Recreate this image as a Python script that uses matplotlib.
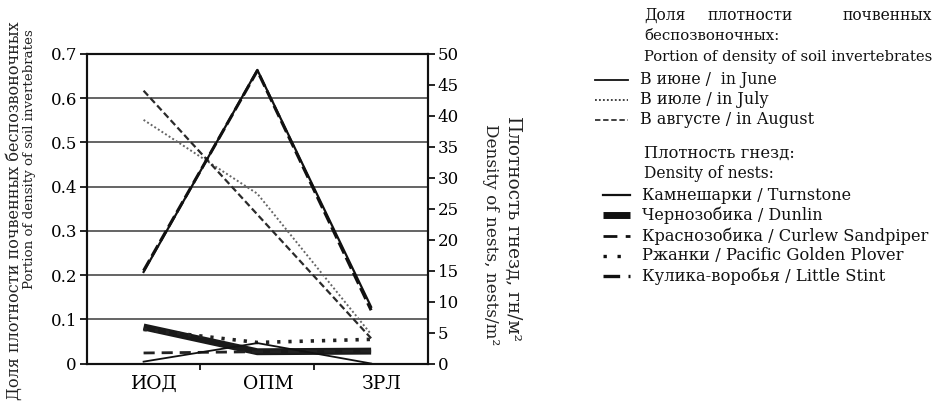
import matplotlib
matplotlib.use("Agg")
import matplotlib.pyplot as plt
from matplotlib.lines import Line2D
import matplotlib.transforms as mtransforms

plt.rcParams['font.family'] = ['DejaVu Serif']

categories = ['ИОД', 'ОПМ', 'ЗРЛ']
# Portion of density of soil invertebrates (left axis)
june = [0.207, 0.664, 0.128]
july = [0.551, 0.384, 0.066]
august = [0.617, 0.337, 0.057]
# Density of nests (right axis)
turnstone = [0.3, 3.3, 0.0]
dunlin = [5.9, 1.9, 2.0]
curlew = [1.7, 1.9, 2.0]
plover = [5.5, 3.4, 3.9]
little_stint = [15.0, 47.3, 8.6]

left_ticks = [0, 0.1, 0.2, 0.3, 0.4, 0.5, 0.6, 0.7]
left_labels = ['0', '0.1', '0.2', '0.3', '0.4', '0.5', '0.6', '0.7']
right_ticks = [0, 5, 10, 15, 20, 25, 30, 35, 40, 45, 50]

W, H = 935, 413
fig = plt.figure(figsize=(W / 100, H / 100), dpi=100)

def fx(px):
    return px / W

def fy(py):
    return 1 - py / H

ax = fig.add_axes([fx(86.7), fy(363.5), fx(428 - 86.7), (363.5 - 54) / H])
ax2 = ax.twinx()

x = range(len(categories))
ax.set_xlim(-0.5, 2.5)
ax.set_ylim(0, 0.7)
ax2.set_ylim(0, 50)

# gridlines
for t in left_ticks[1:-1]:
    ax.axhline(t, color='#3a3a3a', lw=1.1, zorder=1)

ax.plot(x, june, color='#111111', lw=1.6, ls='-', zorder=3)
ax.plot(x, july, color='#666666', lw=1.4, ls=(0, (1, 1.2)), zorder=3)
ax.plot(x, august, color='#2a2a2a', lw=1.6, ls=(0, (3, 1.5)), zorder=3)

ax2.plot(x, little_stint, color='#111111', lw=2.2, ls=(0, (4, 1.5)), zorder=3)
ax2.plot(x, dunlin, color='#1a1a1a', lw=5, ls='-', zorder=3, solid_capstyle='butt')
ax2.plot(x, curlew, color='#222222', lw=2.0, ls=(0, (4, 2.5)), zorder=3)
ax2.plot(x, plover, color='#222222', lw=2.6, ls=(0, (0.9, 2.2)), zorder=3)
ax2.plot(x, turnstone, color='#111111', lw=1.3, ls='-', zorder=3)

for a in (ax, ax2):
    for s in a.spines.values():
        s.set_linewidth(1.5)
        s.set_color('#111111')

ax.set_xticks(list(x))
ax.set_xticklabels(categories, fontsize=13.5)
ax.set_xticks([0.5, 1.5], minor=True)
ax.tick_params(axis='x', which='major', length=0, pad=8)
ax.tick_params(axis='x', which='minor', length=4, width=1.2, direction='out')
offset = mtransforms.ScaledTranslation(11 / 100, 0, fig.dpi_scale_trans)
for lab in ax.get_xticklabels():
    lab.set_transform(lab.get_transform() + offset)

ax.set_yticks(left_ticks)
ax.set_yticklabels(left_labels, fontsize=12)
ax.tick_params(axis='y', length=5, width=1.2, direction='out', pad=2)
ax2.set_yticks(right_ticks)
ax2.set_yticklabels([str(t) for t in right_ticks], fontsize=12)
ax2.tick_params(axis='y', length=5, width=1.2, direction='out', pad=2)

# axis titles
fig.text(fx(14), fy(211), 'Доля плотности почвенных беспозвоночных', rotation=90,
         ha='center', va='center', fontsize=11.5, color='#222222')
fig.text(fx(30), fy(159), 'Portion of density of soil invertebrates', rotation=90,
         ha='center', va='center', fontsize=9.6, color='#222222')
fig.text(fx(513), fy(228), 'Плотность гнезд, гн/м²', rotation=-90,
         ha='center', va='center', fontsize=13.3, color='#222222')
fig.text(fx(490), fy(235), 'Density of nests, nests/m²', rotation=-90,
         ha='center', va='center', fontsize=12.2, color='#222222')

# legend block
tc = '#111111'
fig.text(fx(644), fy(15), 'Доля', fontsize=11.2, va='center', ha='left', color=tc)
fig.text(fx(707), fy(15), 'плотности', fontsize=11.2, va='center', ha='left', color=tc)
fig.text(fx(932), fy(15), 'почвенных', fontsize=11.2, va='center', ha='right', color=tc)
fig.text(fx(644), fy(36), 'беспозвоночных:', fontsize=10.8, va='center', ha='left', color=tc)
fig.text(fx(644), fy(57), 'Portion of density of soil invertebrates', fontsize=10.6,
         va='center', ha='left', color=tc)

entries1 = [
    (80, 'В июне /  in June', 11.3, dict(color='#111111', lw=1.3, ls='-')),
    (100, 'В июле / in July', 11.5, dict(color='#333333', lw=1.3, ls=(0, (1, 1.2)))),
    (120, 'В августе / in August', 11.5, dict(color='#333333', lw=1.3, ls=(0, (3, 1.5)))),
]
for yy, label, size, style in entries1:
    fig.add_artist(Line2D([fx(595), fx(628)], [fy(yy), fy(yy)], transform=fig.transFigure, **style))
    fig.text(fx(640), fy(yy), label, fontsize=size, va='center', ha='left', color=tc)

fig.text(fx(644), fy(153), 'Плотность гнезд:', fontsize=11.8, va='center', ha='left', color=tc)
fig.text(fx(644), fy(174), 'Density of nests:', fontsize=11.2, va='center', ha='left', color=tc)

entries2 = [
    (195, 'Камнешарки / Turnstone', 11.5, dict(color='#111111', lw=1.6, ls='-')),
    (215, 'Чернозобика / Dunlin', 11.5, dict(color='#111111', lw=5, ls='-', solid_capstyle='butt')),
    (236, 'Краснозобика / Curlew Sandpiper', 11.7, dict(color='#111111', lw=2.0, ls=(0, (5, 3)))),
    (256, 'Ржанки / Pacific Golden Plover', 11.8, dict(color='#111111', lw=2.4, ls=(0, (1, 3.2)))),
    (276, 'Кулика-воробья / Little Stint', 11.8, dict(color='#111111', lw=2.4, ls=(0, (5, 2.5, 1.5, 2.5)))),
]
for yy, label, size, style in entries2:
    fig.add_artist(Line2D([fx(603), fx(630)], [fy(yy), fy(yy)], transform=fig.transFigure, **style))
    fig.text(fx(642), fy(yy), label, fontsize=size, va='center', ha='left', color=tc)

fig.savefig('out.png', dpi=100)
